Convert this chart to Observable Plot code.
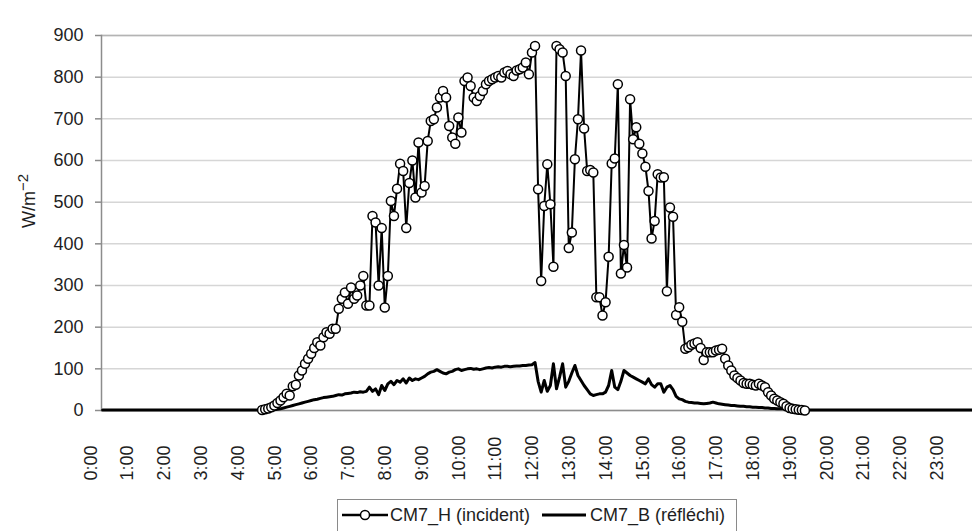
<!DOCTYPE html>
<html>
<head>
<meta charset="utf-8">
<script src="https://cdn.jsdelivr.net/npm/d3@7"></script>
<script src="https://cdn.jsdelivr.net/npm/@observablehq/plot@0.6"></script>
<style>
html, body { margin: 0; padding: 0; background: #fff; overflow: hidden; width: 972px; height: 531px; }
#chart svg { display: block; }
.legend {
  position: absolute; left: 337px; top: 499px; width: 400px; height: 42px;
  border: 1.5px solid #8a8a8a; box-sizing: border-box; background: #fff;
  font-family: "Liberation Sans", Arial, sans-serif; font-size: 18px; color: #1e1e1e;
}
.legend span { position: absolute; top: 5px; line-height: 20px; white-space: nowrap; }
.legend svg { position: absolute; top: 8px; }
</style>
</head>
<body>
<div id="chart"></div>
<div class="legend" id="legend"></div>
<script>
// ---- data (5-minute readings, W/m-2) ----
const stepMinutes = 5;
const seriesNames = ["CM7_H (incident)", "CM7_B (réfléchi)"];
const yTicks = [0, 100, 200, 300, 400, 500, 600, 700, 800, 900];
const hourTicks = [0,1,2,3,4,5,6,7,8,9,10,11,12,13,14,15,16,17,18,19,20,21,22,23];
const hourLabels = ["0:00","1:00","2:00","3:00","4:00","5:00","6:00","7:00","8:00","9:00","10:00","11:00",
                    "12:00","13:00","14:00","15:00","16:00","17:00","18:00","19:00","20:00","21:00","22:00","23:00"];

// CM7_H (incident), from 4:30 to 19:15
const incidentStart = "4:30";
const incident = [
  1, 3, 5, 8, 12, 18,                                          // 4:30-4:55
  24, 32, 40, 36, 58, 62, 84, 96, 112, 124, 136, 150,          // 5h
  164, 156, 176, 188, 184, 196, 196, 244, 268, 283, 256, 295,  // 6h
  268, 276, 300, 323, 252, 252, 467, 451, 300, 438, 247, 323,  // 7h
  503, 467, 532, 592, 575, 438, 546, 600, 511, 643, 523, 539,  // 8h
  647, 695, 699, 727, 751, 767, 751, 683, 655, 640, 703, 667,  // 9h
  791, 799, 779, 751, 743, 755, 767, 783, 791, 795, 799, 803,  // 10h
  799, 811, 815, 807, 803, 816, 819, 823, 835, 807, 859, 875,  // 11h
  531, 311, 491, 591, 495, 345, 875, 867, 859, 803, 390, 427,  // 12h
  603, 699, 864, 677, 575, 577, 571, 272, 272, 228, 260, 369,  // 13h
  593, 605, 783, 329, 397, 343, 747, 651, 680, 640, 617, 585,  // 14h
  527, 413, 455, 567, 559, 560, 286, 487, 465, 229, 248, 213,  // 15h
  148, 152, 158, 161, 164, 150, 121, 140, 140, 140, 144, 146,  // 16h
  148, 124, 108, 96, 84, 78, 72, 66, 64, 64, 62, 60,           // 17h
  64, 60, 56, 44, 36, 28, 24, 20, 16, 10, 6, 4,                // 18h
  3, 2, 1, 0                                                   // 19:00-19:15
];

// CM7_B (réfléchi), from 0:10 to 23:55
const reflectedStart = "0:10";
const reflected = [
  1, 1, 1, 1, 1, 1, 1, 1, 1, 1,                                // 0h (from 0:10)
  1, 1, 1, 1, 1, 1, 1, 1, 1, 1, 1, 1,                          // 1h
  1, 1, 1, 1, 1, 1, 1, 1, 1, 1, 1, 1,                          // 2h
  1, 1, 1, 1, 1, 1, 1, 1, 1, 1, 1, 1,                          // 3h
  1, 1, 1, 1, 1, 1, 1, 1, 1, 1, 2, 3,                          // 4h
  4, 6, 8, 10, 12, 14, 16, 18, 20, 22, 24, 26,                 // 5h
  27, 29, 31, 32, 33, 34, 36, 38, 37, 40, 41, 42,              // 6h
  44, 43, 45, 44, 46, 56, 46, 52, 38, 60, 48, 64,              // 7h
  70, 62, 72, 68, 76, 66, 78, 72, 76, 74, 78, 82,              // 8h
  88, 92, 94, 98, 94, 90, 88, 92, 94, 98, 100, 96,             // 9h
  98, 100, 101, 99, 100, 98, 100, 102, 103, 102, 104, 105,     // 10h
  104, 106, 106, 105, 106, 107, 107, 108, 108, 109, 110, 115,  // 11h
  70, 44, 72, 46, 60, 112, 52, 80, 112, 56, 70, 90,            // 12h
  108, 84, 72, 60, 50, 40, 36, 38, 40, 40, 44, 60,             // 13h
  96, 56, 50, 70, 96, 90, 84, 80, 76, 72, 68, 64,              // 14h
  76, 62, 56, 64, 64, 44, 56, 60, 50, 34, 28, 26,              // 15h
  22, 20, 19, 18, 18, 17, 16, 17, 18, 20, 18, 16,              // 16h
  15, 14, 13, 12, 12, 11, 10, 10, 9, 9, 8, 8,                  // 17h
  7, 7, 6, 6, 5, 5, 4, 4, 4, 3, 3, 3,                          // 18h
  2, 2, 2, 1, 1, 1, 1, 1, 1, 1, 1, 1,                          // 19h
  1, 1, 1, 1, 1, 1, 1, 1, 1, 1, 1, 1,                          // 20h
  1, 1, 1, 1, 1, 1, 1, 1, 1, 1, 1, 1,                          // 21h
  1, 1, 1, 1, 1, 1, 1, 1, 1, 1, 1, 1,                          // 22h
  1, 1, 1, 1, 1, 1, 1, 1, 1, 1, 1, 1                           // 23h
];

// ---- build tables ----
function toHours(s) { const [h, m] = s.split(":").map(Number); return h + m / 60; }
function rows(start, values) {
  const t0 = toHours(start);
  return values.map((v, i) => ({ t: t0 + i * stepMinutes / 60, v }));
}
const incRows = rows(incidentStart, incident);
const refRows = rows(reflectedStart, reflected);

const font = '"Liberation Sans", Arial, sans-serif';
const chart = Plot.plot({
  width: 972,
  height: 490,
  marginTop: 35,
  marginBottom: 80,
  marginLeft: 101,
  marginRight: 0,
  style: { fontFamily: font, fontSize: "18px", color: "#1e1e1e", background: "#fff", overflow: "visible" },
  x: { domain: [0, 24], range: [96, 96 + 36.8 * 24], axis: null },
  y: { domain: [0, 900] },
  marks: [
    Plot.gridY(yTicks, { stroke: "#d6d6d6", strokeOpacity: 1, strokeWidth: 1.5 }),
    Plot.ruleY([900], { stroke: "#b4b4b4", strokeWidth: 1.5 }),
    Plot.ruleY([0], { stroke: "#8c8c8c", strokeWidth: 1.5 }),
    Plot.frame({ anchor: "left", stroke: "#8c8c8c", strokeWidth: 1.5 }),
    Plot.axisY(yTicks, { tickSize: 6, tickPadding: 12, stroke: "#8c8c8c", strokeWidth: 1.5, fill: "#1e1e1e", label: null }),
    Plot.line(refRows, { x: "t", y: "v", stroke: "#000", strokeWidth: 3 }),
    Plot.line(incRows, { x: "t", y: "v", stroke: "#000", strokeWidth: 2 }),
    Plot.dot(incRows, { x: "t", y: "v", r: 4.5, fill: "#fff", stroke: "#000", strokeWidth: 1.5 }),
    Plot.text(hourLabels, {
      x: (d, i) => hourTicks[i], text: d => d, frameAnchor: "bottom",
      rotate: -90, textAnchor: "start", dy: 70, fill: "#1e1e1e"
    }),
    Plot.text(["W/m"], {
      text: d => d, frameAnchor: "left", rotate: -90, textAnchor: "middle",
      dx: -72, dy: -22, fill: "#1e1e1e"
    })
  ]
});
document.getElementById("chart").appendChild(chart);

// superscript for the y-axis unit
d3.select(chart).selectAll("text").filter(function () { return this.textContent === "W/m"; })
  .each(function () {
    d3.select(this).append("tspan").attr("dy", "-0.5em").attr("font-size", "15px").text("−2");
  });

// ---- legend ----
const legend = d3.select("#legend");
const sw1 = legend.append("svg").attr("width", 46).attr("height", 14).style("left", "4px");
sw1.append("line").attr("x1", 0).attr("x2", 46).attr("y1", 7).attr("y2", 7).attr("stroke", "#000").attr("stroke-width", 2.5);
sw1.append("circle").attr("cx", 23).attr("cy", 7).attr("r", 4.5).attr("fill", "#fff").attr("stroke", "#000").attr("stroke-width", 1.5);
legend.append("span").style("left", "52px").text(seriesNames[0]);
const sw2 = legend.append("svg").attr("width", 44).attr("height", 14).style("left", "204px");
sw2.append("line").attr("x1", 0).attr("x2", 44).attr("y1", 7).attr("y2", 7).attr("stroke", "#000").attr("stroke-width", 3);
legend.append("span").style("left", "252px").text(seriesNames[1]);
</script>
</body>
</html>
